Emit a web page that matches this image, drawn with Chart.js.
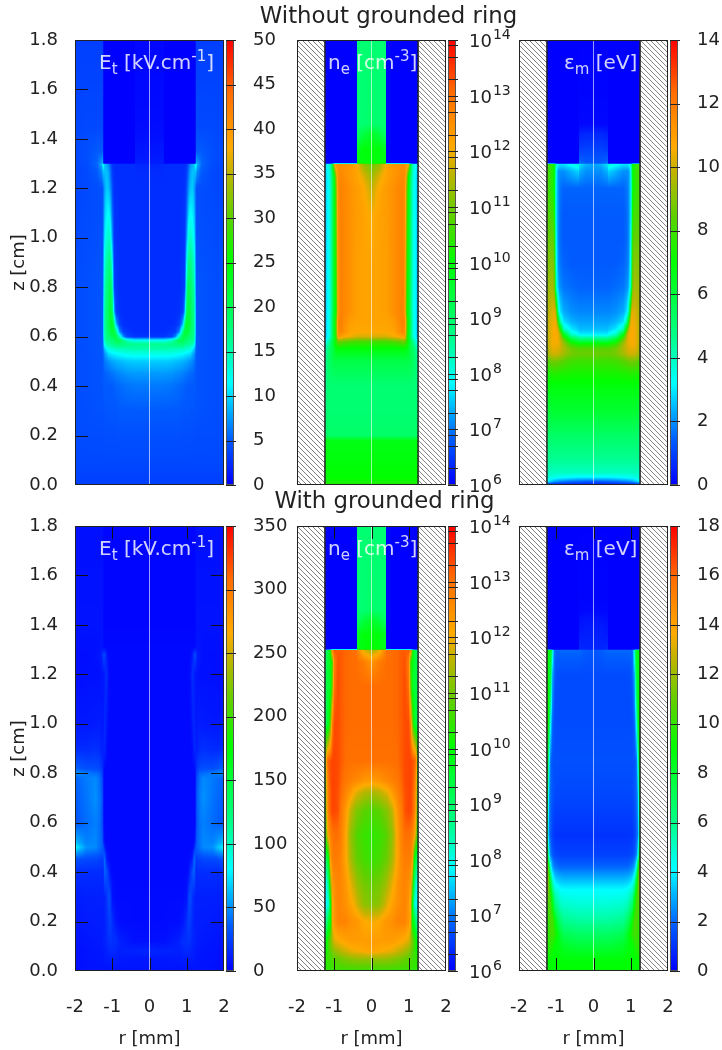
<!DOCTYPE html>
<html>
<head>
<meta charset="utf-8">
<title>Without / with grounded ring</title>
<script src="https://cdn.jsdelivr.net/npm/chart.js@4"></script>
<style>
html,body{margin:0;padding:0;background:#fff;}
#page{position:relative;width:722px;height:1050px;overflow:hidden;font-family:"DejaVu Sans",sans-serif;color:#222;}
#page canvas{position:absolute;left:0;top:0;}
.title{position:absolute;left:0;font-size:22.8px;text-align:center;white-space:nowrap;z-index:5;}
.tag{position:absolute;font-size:20px;color:rgba(255,255,255,.82);white-space:nowrap;line-height:20px;z-index:5;}
.tag sub,.tag sup{font-size:15px;line-height:0;}
</style>
</head>
<body>
<div id="page">
<div class="title" style="top:2px;width:777px;">Without grounded ring</div>
<div class="title" style="top:487px;width:769px;">With grounded ring</div>
<div class="tag" style="left:99px;top:52px;">E<sub>t</sub> [kV.cm<sup>-1</sup>]</div>
<div class="tag" style="left:328px;top:52px;">n<sub>e</sub> [cm<sup>-3</sup>]</div>
<div class="tag" style="left:564px;top:52px;">ε<sub>m</sub> [eV]</div>
<div class="tag" style="left:99px;top:538px;">E<sub>t</sub> [kV.cm<sup>-1</sup>]</div>
<div class="tag" style="left:328px;top:538px;">n<sub>e</sub> [cm<sup>-3</sup>]</div>
<div class="tag" style="left:564px;top:538px;">ε<sub>m</sub> [eV]</div>
</div>
<script>
// tick labels
const rTicks = [-2, -1, 0, 1, 2];
const zTicks = [0, 0.2, 0.4, 0.6, 0.8, 1.0, 1.2, 1.4, 1.6, 1.8];
const centerLine = [{x: 0, y: 0}, {x: 0, y: 1.8}];
const logMajor = [6, 7, 8, 9, 10, 11, 12, 13, 14];
const logMinor = [2, 5, 8];

// field of the top left panel, E_t in kV/cm (half profile, mirrored at r=0)
const etTopR = [0,.38,.40,.60,.70,.80,.90,.95,1.0,1.05,1.1,1.15,1.2,1.23,1.25,1.27,1.4,1.7,2];
const etTopZ = [0,.1,.2,.3,.4,.45,.5,.53,.55,.57,.585,.6,.62,.65,.7,.8,.9,1.0,1.1,1.2,1.27,1.299,1.301,1.35,1.45,1.8];
const etTopV = [
[3.5,3.5,3.5,3.5,3.5,3.5,3.5,3.5,3.5,3.5,3.5,3.5,3.5,3.5,3.5,3.5,3.5,3.5,3.5],
[4,4,4,4,4,4,4,4,4,4,4,4,4,4,4,4,4,4,4],
[4.4,4.4,4.4,4.4,4.4,4.4,4.3,4.3,4.3,4.3,4.3,4.3,4.3,4.3,4.2,4.2,4.2,4.2,4.1],
[5,5,5,5,5,5,4.8,4.8,4.8,4.8,4.7,4.7,4.6,4.6,4.5,4.5,4.5,4.3,4.2],
[6.2,6.2,6.2,6,5.8,5.6,5.4,5.2,5,5,5,5,5,5,4.8,4.6,4.5,4.4,4.2],
[7.5,7.5,7.5,7.3,7,6.8,6.5,6.2,6,5.8,5.6,5.4,5.2,5,4.8,4.6,4.5,4.4,4.2],
[9.5,9.5,9.5,9.3,9,8.8,8.5,8.2,8,7.6,7.2,6.8,6.2,5.5,5,4.7,4.5,4.4,4.2],
[12.5,12.5,12.5,12.3,12,11.7,11.3,11,10.7,10.3,10,8.5,7.5,6,5.2,4.8,4.6,4.4,4.2],
[15,15,15,14.8,14.6,14.4,14,13.8,13.5,13.2,13,11,9.5,7,5.5,4.8,4.6,4.4,4.2],
[16.5,16.5,16.5,17,17.5,18,18,17,16.5,16,15.5,15,13,9,5.5,4.8,4.6,4.4,4.2],
[12,12,12,14,17,20,20,19,18,17.5,17,16.5,15,10,5.5,4.8,4.6,4.4,4.2],
[3,3,3,4,7,14,21,21,20,19,18,17,15.5,10.5,5.5,4.8,4.6,4.4,4.2],
[2.5,2.5,2.5,3,3.5,7,17,22,22,21,19,17.5,16,11,5.5,4.8,4.6,4.4,4.2],
[2.5,2.5,2.5,2.5,2.7,3.5,9,18,23,22,20,18,16,11,5.5,4.8,4.6,4.4,4.2],
[2.5,2.5,2.5,2.5,2.5,2.7,3.5,9,20,22,20,18,16,11,5.5,4.8,4.6,4.4,4.2],
[2.5,2.5,2.5,2.5,2.5,2.5,3,4,16,20,19,17,15,10,5.2,4.7,4.6,4.4,4.2],
[2.5,2.5,2.5,2.5,2.5,2.5,2.8,3.5,12,17,17,15.5,13.5,9,5,4.6,4.5,4.3,4.1],
[2.5,2.5,2.5,2.5,2.5,2.5,2.7,3.2,8,13,14,13,11,8,4.8,4.5,4.4,4.2,4],
[2.5,2.5,2.5,2.5,2.5,2.5,2.7,3,6,10,11.5,11,9.5,7,4.6,4.4,4.3,4.1,3.9],
[2.5,2.5,2.5,2.5,2.5,2.5,2.6,2.8,4.5,7.5,9,9.5,8,6.5,4.5,4.5,4.3,4,3.8],
[2.4,2.4,2.5,2.5,2.5,2.5,2.5,2.6,3.5,6,8,9,9,9,10,7,5,4,3.8],
[2,2.2,2.5,2.5,2.5,2.5,2.5,2.6,3,5,7,8,9,12,14,9,5.5,4.2,3.9],
[1.5,1.6,0,0,0,0,0,0,0,0,0,0,0,0,9,8,5.5,4.2,3.9],
[1.2,1.2,0,0,0,0,0,0,0,0,0,0,0,0,5,5,5,4.3,4],
[.6,.6,0,0,0,0,0,0,0,0,0,0,0,0,4,4,4,4,3.8],
[.3,.3,0,0,0,0,0,0,0,0,0,0,0,0,3.5,3.5,3.5,3.5,3.5]
];

// top middle panel, log10 of n_e
const neTopR = [0,.2,.38,.40,.6,.8,.85,.9,.95,1.0,1.05,1.1,1.15,1.2,1.25];
const neTopZ = [0,.03,.1,.18,.2,.3,.4,.5,.55,.58,.6,.62,.66,.7,.9,1.1,1.2,1.25,1.299,1.301,1.36,1.42,1.46,1.8];
const neTopV = [
[10.3,10.3,10.3,10.3,10.3,10.3,10.3,10.3,10.3,10.3,10.3,10.3,10.3,10.3,10.3],
[10,10,10,10,10,10,10,10,10,10,10,10,10,10,10],
[9.9,9.9,9.9,9.9,9.9,9.9,9.9,9.9,9.9,9.9,9.9,9.9,9.9,9.9,9.9],
[9.8,9.8,9.8,9.8,9.8,9.8,9.8,9.8,9.8,9.8,9.8,9.8,9.8,9.8,9.8],
[9,9,9,9,9,9,9,9,9,9,9,9,9,9,9],
[8.9,8.9,8.9,8.9,8.9,8.9,8.9,8.9,8.9,8.9,8.9,8.9,8.9,8.9,8.8],
[8.9,8.9,8.9,8.9,8.9,8.9,8.9,8.9,8.9,8.9,8.9,8.9,8.9,8.8,8.6],
[9.3,9.3,9.3,9.3,9.3,9.3,9.3,9.3,9.3,9.3,9.2,9.1,9,8.8,8.4],
[9.9,9.9,9.9,9.9,9.9,9.9,9.9,9.9,9.8,9.6,9.3,9.1,8.9,8.6,8.2],
[10.6,10.6,10.6,10.6,10.7,10.9,11,10.9,10.4,9.8,9.3,8.8,8.4,8.1,7.8],
[11.8,11.8,11.8,11.8,12,12.2,12.4,12.2,10.6,9.6,9.1,8.3,7.9,7.7,7.4],
[12.1,12.1,12.1,12.1,12.2,12.6,12.7,12.5,10.7,9.7,9.1,8.3,7.9,7.7,7.3],
[12.2,12.2,12.2,12.2,12.3,12.7,12.8,12.6,10.8,9.7,9.1,8.3,7.9,7.7,7.3],
[12.2,12.2,12.25,12.25,12.5,12.7,12.7,12.3,10.2,9.6,9,8.2,7.9,7.7,7.3],
[12.2,12.2,12.25,12.25,12.5,12.7,12.7,12.4,10.5,9.7,9,8.2,7.9,7.7,7.3],
[12,12.2,12.3,12.3,12.5,12.7,12.7,12.5,10.8,9.7,9,8.2,7.9,7.7,7.3],
[11.6,12.1,12.3,12.3,12.5,12.7,12.7,12.5,11,9.8,9,8.2,7.9,7.7,7.4],
[11.3,11.8,12.2,12.2,12.4,12.6,12.6,12.5,11.5,9.9,9.1,8.3,7.9,7.7,7.4],
[10.9,11.2,12,12.2,12.4,12.5,12.5,12.5,12.4,12,9.5,8.5,8,7.8,7.5],
[9.9,9.9,9.9,6,6,6,6,6,6,6,6,6,6,6,6],
[9.9,9.9,9.7,6,6,6,6,6,6,6,6,6,6,6,6],
[9.6,9.4,9,6,6,6,6,6,6,6,6,6,6,6,6],
[9,8.9,8.9,6,6,6,6,6,6,6,6,6,6,6,6],
[8.9,8.9,8.9,6,6,6,6,6,6,6,6,6,6,6,6]
];

// top right panel, mean energy in eV
const emTopR = [0,.2,.38,.40,.6,.8,.9,.95,1.0,1.02,1.05,1.1,1.2,1.25];
const emTopZ = [0,.015,.03,.05,.1,.2,.3,.4,.45,.5,.53,.55,.57,.59,.61,.63,.66,.7,.8,.9,1.0,1.1,1.2,1.27,1.299,1.301,1.36,1.42,1.46,1.8];
const emTopV = [
[.3,.3,.3,.3,.3,.3,.3,.3,.3,.3,.3,.3,.4,.5],
[1.5,1.5,1.6,1.6,1.7,1.9,2,2.1,2.2,2.2,2.3,2.5,3,3.5],
[3,3,3,3,3.1,3.2,3.3,3.3,3.4,3.4,3.4,3.5,3.6,3.7],
[4,4,4,4,4,4,4,4,4,4,4,4,4,4],
[4.5,4.5,4.5,4.5,4.5,4.5,4.5,4.5,4.5,4.5,4.5,4.5,4.5,4.5],
[5.3,5.3,5.3,5.3,5.3,5.3,5.3,5.3,5.3,5.3,5.3,5.3,5.2,5.1],
[6.2,6.2,6.2,6.2,6.2,6.2,6.2,6.2,6.2,6.2,6.2,6.2,6.1,6],
[6.8,6.8,6.8,6.8,6.8,6.8,6.8,6.8,6.8,6.8,6.8,6.8,6.8,6.6],
[7.3,7.3,7.3,7.3,7.3,7.4,7.4,7.5,7.5,7.5,7.5,7.5,7.4,7.2],
[7.9,7.9,7.9,7.9,8,8.3,8.5,8.6,8.7,8.7,8.7,8.7,8.4,8],
[8.6,8.6,8.6,8.6,8.8,9.4,9.8,10,10,10,10,10,9.6,8.8],
[8.4,8.4,8.4,8.4,8.7,9.6,10,10.2,10.3,10.3,10.3,10.3,9.8,9],
[7.2,7.2,7.2,7.2,7.8,9.4,10.2,10.4,10.5,10.5,10.5,10.5,10,9.2],
[5,5,5,5.2,6,8.5,10,10.5,10.6,10.6,10.6,10.5,10,9.2],
[3,3,3,3.2,3.8,6.5,9.6,10.4,10.6,10.6,10.6,10.5,10,9.2],
[2.5,2.5,2.5,2.6,3,4,8,10,10.5,10.6,10.6,10.5,10,9.2],
[2.2,2.2,2.2,2.2,2.4,2.9,4.5,8,10.2,10.5,10.5,10.4,10,9.2],
[1.9,1.9,1.9,1.9,2,2.3,3,4.5,9,10,10.3,10.2,9.8,9],
[1.5,1.5,1.5,1.5,1.6,1.7,2,2.5,4,6,9,9.5,9.4,8.8],
[1.4,1.4,1.4,1.4,1.4,1.5,1.7,2.1,3.5,5,8.5,9,9,8.5],
[1.4,1.4,1.4,1.4,1.4,1.4,1.6,2,3.2,4.5,8,8.5,8.6,8.2],
[1.4,1.4,1.4,1.4,1.4,1.4,1.6,2,3,4.2,7.5,8,8.2,8],
[1.5,1.5,1.5,1.5,1.5,1.5,1.7,2.1,3,4,7,7.5,8,8],
[2,2,2.4,2.8,2.4,2,2,2.1,3.2,4.5,7,7.5,8,8],
[2.2,2.4,3,3.8,3.4,3,3,3.2,4,5,7,7.5,8,8],
[1.4,1.4,1.6,0,0,0,0,0,0,0,0,0,0,0],
[1,1,.9,0,0,0,0,0,0,0,0,0,0,0],
[.6,.6,.5,0,0,0,0,0,0,0,0,0,0,0],
[.1,.1,.1,0,0,0,0,0,0,0,0,0,0,0],
[0,0,0,0,0,0,0,0,0,0,0,0,0,0]
];

// bottom left panel, E_t in kV/cm
const etBotR = [0,.38,.40,.8,.9,1.0,1.05,1.1,1.15,1.2,1.23,1.25,1.27,1.35,1.45,1.7,1.95,2];
const etBotZ = [0,.05,.08,.12,.2,.3,.4,.45,.48,.5,.52,.6,.7,.78,.8,.82,.9,1.0,1.2,1.28,1.31,1.4,1.8];
const etBotV = [
[7,7,7,7,7,7,7,7,7,7,7,7,7,7,7,6,5,5],
[9,9,9,10,11,11,11,10,10,10,9,8,8,8,7,7,6,6],
[14,13,13,12,14,16,15,14,12,11,10,9,9,8,8,7,6,6],
[6,6,6,12,18,18,20,18,15,13,12,11,10,10,9,8,7,7],
[4,4,4,5,8,18,25,22,16,13,12,11,11,11,11,10,9,9],
[4,4,4,4,4,7,25,30,20,14,13,12,12,12,12,12,11,11],
[3,3,3,3,3,4,6,20,30,40,22,15,16,17,17,17,17,17],
[3,3,3,3,3,3,4,6,12,42,30,22,22,25,27,28,30,32],
[3,3,3,3,3,3,3,4,7,25,34,30,32,37,40,42,55,60],
[3,3,3,3,3,3,3,3,4,12,28,33,36,42,48,50,75,95],
[3,3,3,3,3,3,3,3,3,5,14,30,36,42,48,46,60,70],
[3,3,3,3,3,3,3,3,3,3,4,25,33,42,45,40,34,30],
[3,3,3,3,3,3,3,3,3,3,4,25,35,44,50,42,36,34],
[3,3,3,3,3,3,3,3,3,3,5,22,30,42,48,44,38,36],
[3,3,3,3,3,3,3,3,3,3,6,20,25,38,40,44,50,48],
[3,3,3,3,3,3,3,3,3,4,8,16,20,28,30,30,36,38],
[3,3,3,3,3,3,3,3,5,15,14,12,12,16,18,16,16,16],
[3,3,3,3,3,3,3,4,10,16,10,9,9,11,10,9,9,9],
[3,3,3,3,3,3,3,7,18,12,9,8,7,6,6,6,5,5],
[3,3,3,3,3,3,3,4,10,25,28,22,14,8,6,5,5,5],
[3,3,3,3,3,3,3,3,3,3,3,8,7,7,6,6,6,6],
[2,2,2,2,2,2,2,2,2,2,2,7,7,7,7,7,7,7],
[2,2,2,2,2,2,2,2,2,2,2,6,6,6,6,6,6,6]
];

// bottom middle panel, log10 of n_e
const neBotR = [0,.2,.38,.40,.55,.7,.8,.9,1.0,1.05,1.1,1.15,1.2,1.25];
const neBotZ = [0,.05,.08,.12,.2,.27,.35,.45,.55,.65,.72,.77,.85,1.0,1.15,1.25,1.299,1.301,1.36,1.42,1.46,1.8];
const neBotV = [
[10.5,10.5,10.5,10.5,10.5,10.5,10.5,10.5,10.5,10.5,10.4,10.4,10.3,10.3],
[11.3,11.3,11.3,11.3,11.2,11.1,11,10.9,10.8,10.7,10.6,10.5,10.4,10.2],
[12.2,12.1,12,12,11.9,11.7,11.6,11.4,11.2,11,10.8,10.5,10.2,9.8],
[12.3,12.3,12.3,12.3,12.3,12.2,12.1,12,11.8,11.4,11,10.6,10,9.5],
[12,12.1,12.4,12.4,12.5,12.7,12.7,12.7,12.4,12,10,9.6,8.8,8.4],
[11.1,11.2,11.7,11.8,12.2,12.5,12.6,12.7,12.4,12,10,8.2,7.9,7.7],
[10.9,11,11.3,11.4,11.9,12.4,12.6,12.7,12.5,12.3,11,9,8,7.8],
[10.5,10.6,10.9,10.9,11.4,12.2,12.6,12.8,12.8,12.7,12.3,10,9.2,8.6],
[10.4,10.5,10.7,10.8,11.2,12.2,12.7,13,13,12.9,12.7,12.3,11.5,9.5],
[10.7,10.8,11.1,11.1,11.6,12.4,12.8,13.3,13.4,13.4,13.2,12.9,12,9.8],
[11.4,11.5,11.8,11.8,12.3,12.7,13,13.3,13.4,13.4,13.2,12.9,12.2,9.8],
[12.3,12.4,12.6,12.6,12.75,12.9,13.1,13.35,13.4,13.4,13.3,13,12.3,9.8],
[13,13,13,13,13,13.05,13.2,13.35,13.4,13.4,13.3,13.2,12.8,10],
[13.05,13.05,13.05,13.05,13.05,13.1,13.2,13.35,13.35,12.8,11,9.8,9.4,9],
[13.05,13.05,13.05,13.05,13.05,13.1,13.2,13.35,13,11,9.8,9.5,9.4,9],
[12.4,12.8,13,13.05,13.05,13.1,13.2,13.3,12.8,10.6,9.9,9.6,9.4,9],
[11.4,11.8,12.7,13,13.05,13.1,13.2,13.2,13.2,12.8,10.5,9.5,9,8.8],
[10,9.9,9.7,6,6,6,6,6,6,6,6,6,6,6],
[9.9,9.9,9.7,6,6,6,6,6,6,6,6,6,6,6],
[9.6,9.4,9,6,6,6,6,6,6,6,6,6,6,6],
[9,8.9,8.9,6,6,6,6,6,6,6,6,6,6,6],
[8.9,8.9,8.9,6,6,6,6,6,6,6,6,6,6,6]
];

// bottom right panel, mean energy in eV
const emBotR = [0,.2,.38,.40,.8,.9,1.0,1.05,1.1,1.15,1.2,1.23,1.25];
const emBotZ = [0,.05,.1,.15,.2,.25,.3,.33,.38,.42,.47,.55,.7,.85,1.0,1.1,1.2,1.299,1.301,1.36,1.42,1.46,1.8];
const emBotV = [
[9,9,9,9,9,9,9,9,9,9,9,9,9],
[8.8,8.8,8.8,8.8,8.8,8.9,9,9,9,9.1,9.2,9.2,9.2],
[7.8,7.8,7.8,7.8,8.2,8.6,8.8,9,9.5,9.8,9.8,9.7,9.5],
[6.8,6.8,6.8,6.8,7.2,8,9.3,10,10.3,10.3,10,9.6,9],
[5.7,5.7,5.7,5.7,6,6.8,8.2,9.5,10.5,10.5,10.2,9.6,9],
[5,5,5,5,5.2,5.5,6.5,7.5,9.5,10.5,10.5,10,9.5],
[4.4,4.4,4.4,4.4,4.5,4.7,5.3,6,8,10,10.8,11,10],
[4.1,4.1,4.1,4.1,4.1,4.2,4.6,5,6.5,9,11,12,12],
[2.9,2.9,2.9,2.9,2.9,3,3.2,3.6,4.5,7,10.5,12.5,13.5],
[2,2,2,2,2,2,2.2,2.4,3,4.5,9,12,14],
[1.3,1.3,1.3,1.3,1.3,1.3,1.4,1.5,1.8,2.3,4.5,9,12],
[1,1,1,1,1,1,1,1.1,1.3,1.8,2.5,6,9],
[1.4,1.4,1.4,1.4,1.4,1.4,1.4,1.5,1.7,2,3,8,9.5],
[1.6,1.6,1.6,1.6,1.6,1.6,1.6,1.6,1.7,2,5,9,10],
[1.5,1.5,1.5,1.5,1.5,1.5,1.5,1.6,2,4,8.5,9.5,9.5],
[1.5,1.5,1.5,1.5,1.5,1.5,1.5,1.7,2.5,6,9,9,9],
[1.5,1.5,1.5,1.5,1.5,1.5,1.6,2,3,7.5,8.5,9,9],
[1.7,1.8,2,2,2,2,2,2.2,5,8.5,8.8,9,9],
[.7,.7,.8,0,0,0,0,0,0,0,0,0,0],
[.6,.6,.5,0,0,0,0,0,0,0,0,0,0],
[.4,.4,.3,0,0,0,0,0,0,0,0,0,0],
[.1,.1,.1,0,0,0,0,0,0,0,0,0,0],
[0,0,0,0,0,0,0,0,0,0,0,0,0]
];

// colour map of the bars, position along the bar -> rgb
const cmapPos = [0, .1, .23, .33, .5, .6, .7, .76, .88, 1];
const cmapRgb = [[0,0,255],[0,90,255],[0,255,255],[0,255,140],[0,255,0],[90,210,0],[190,180,0],[255,170,0],[255,110,0],[255,0,0]];

const WALL = 1.25;
const INK = '#222';
const FONT = {family: '"DejaVu Sans"', size: 18};

function colourAt(t) {
    t = Math.max(0, Math.min(1, t));
    let i = 0;
    while (i < cmapPos.length - 2 && t > cmapPos[i + 1]) i++;
    const f = (t - cmapPos[i]) / (cmapPos[i + 1] - cmapPos[i]);
    const a = cmapRgb[i], b = cmapRgb[i + 1];
    return [a[0] + (b[0] - a[0]) * f, a[1] + (b[1] - a[1]) * f, a[2] + (b[2] - a[2]) * f];
}

function locate(list, v) {
    let i = 0;
    while (i < list.length - 2 && v > list[i + 1]) i++;
    const f = (v - list[i]) / (list[i + 1] - list[i]);
    return [i, Math.max(0, Math.min(1, f))];
}

// paints the grid cells (shaded between corners) through the chart scales
const heatPlugin = {
    id: 'heat',
    beforeDatasetsDraw(chart, args, o) {
        const area = chart.chartArea, ctx = chart.ctx;
        const w = Math.round(area.right - area.left), h = Math.round(area.bottom - area.top);
        const img = ctx.createImageData(w, h);
        for (let j = 0; j < h; j++) {
            const z = chart.scales.y.getValueForPixel(area.top + j + .5);
            const [iz, fz] = locate(o.z, z);
            for (let k = 0; k < w; k++) {
                const r = Math.abs(chart.scales.x.getValueForPixel(area.left + k + .5));
                const [ir, fr] = locate(o.r, r);
                const lo = o.v[iz], hi = o.v[iz + 1];
                const v = (lo[ir] * (1 - fr) + lo[ir + 1] * fr) * (1 - fz) + (hi[ir] * (1 - fr) + hi[ir + 1] * fr) * fz;
                const c = colourAt((v - o.min) / (o.max - o.min));
                const p = (j * w + k) * 4;
                img.data[p] = c[0]; img.data[p + 1] = c[1]; img.data[p + 2] = c[2]; img.data[p + 3] = 255;
            }
        }
        ctx.putImageData(img, area.left, area.top);
        if (o.hatch) drawHatch(chart);
    },
    afterDatasetsDraw(chart, args, o) {
        const area = chart.chartArea, ctx = chart.ctx;
        const L = 13;
        ctx.save();
        ctx.strokeStyle = '#111';
        ctx.lineWidth = 1;
        ctx.beginPath();
        zTicks.slice(1, -1).forEach(v => {
            const y = Math.round(chart.scales.y.getPixelForValue(v)) + .5;
            if (o.sides.includes('l')) { ctx.moveTo(area.left, y); ctx.lineTo(area.left + L, y); }
            if (o.sides.includes('r')) { ctx.moveTo(area.right, y); ctx.lineTo(area.right - L, y); }
        });
        rTicks.slice(1, -1).forEach(v => {
            const x = Math.round(chart.scales.x.getPixelForValue(v)) + .5;
            if (o.sides.includes('t')) { ctx.moveTo(x, area.top); ctx.lineTo(x, area.top + L); }
            if (o.sides.includes('b')) { ctx.moveTo(x, area.bottom); ctx.lineTo(x, area.bottom - L); }
        });
        ctx.stroke();
        ctx.strokeStyle = '#222';
        ctx.strokeRect(area.left + .5, area.top + .5, area.right - area.left - 1, area.bottom - area.top - 1);
        ctx.restore();
    }
};

function drawHatch(chart) {
    const area = chart.chartArea, ctx = chart.ctx;
    const xl = chart.scales.x.getPixelForValue(-WALL), xr = chart.scales.x.getPixelForValue(WALL);
    ctx.save();
    ctx.fillStyle = '#fff';
    [[area.left, xl], [xr, area.right]].forEach(([a, b]) => {
        ctx.save();
        ctx.beginPath();
        ctx.rect(a, area.top, b - a, area.bottom - area.top);
        ctx.clip();
        ctx.fillRect(a, area.top, b - a, area.bottom - area.top);
        ctx.strokeStyle = '#808080';
        ctx.lineWidth = 1;
        ctx.beginPath();
        const H = area.bottom - area.top;
        for (let x = a - H - 5; x < b; x += 5) {
            ctx.moveTo(x, area.top);
            ctx.lineTo(x + H, area.bottom);
        }
        ctx.stroke();
        ctx.restore();
    });
    ctx.strokeStyle = '#222';
    ctx.lineWidth = 1.5;
    ctx.beginPath();
    ctx.moveTo(xl, area.top); ctx.lineTo(xl, area.bottom);
    ctx.moveTo(xr, area.top); ctx.lineTo(xr, area.bottom);
    ctx.stroke();
    ctx.restore();
}

// the colour bar next to a panel, with its tick marks and, on log bars, 10^n labels
const barPlugin = {
    id: 'bar',
    beforeDatasetsDraw(chart, args, o) {
        const area = chart.chartArea, ctx = chart.ctx, y = chart.scales.y;
        for (let j = Math.round(area.top); j < area.bottom; j++) {
            const v = y.getValueForPixel(j + .5);
            const t = o.log ? (Math.log10(v) - o.min) / (o.max - o.min) : (v - o.min) / (o.max - o.min);
            const c = colourAt(t);
            ctx.fillStyle = 'rgb(' + c.map(Math.round).join(',') + ')';
            ctx.fillRect(area.left, j, area.right - area.left, 1);
        }
        ctx.save();
        ctx.strokeStyle = '#555';
        ctx.strokeRect(area.left + .5, area.top + .5, area.right - area.left - 1, area.bottom - area.top - 1);
        ctx.strokeStyle = '#222';
        ctx.beginPath();
        y.ticks.forEach(t => {
            const p = Math.round(y.getPixelForValue(t.value)) + .5;
            ctx.moveTo(area.left, p);
            ctx.lineTo(area.right + 2, p);
        });
        ctx.stroke();
        if (o.log) {
            ctx.fillStyle = INK;
            ctx.textAlign = 'left';
            ctx.textBaseline = 'alphabetic';
            logMajor.forEach(n => {
                const p = y.getPixelForValue(Math.pow(10, n));
                const x = o.labelX;
                ctx.font = '18px "DejaVu Sans"';
                ctx.fillText('10', x, p + 7);
                const w = ctx.measureText('10').width;
                ctx.font = '14px "DejaVu Sans"';
                ctx.fillText(String(n), x + w + 1, p - 1);
            });
        }
        ctx.restore();
    }
};

function heatChart(p) {
    const canvas = document.createElement('canvas');
    canvas.width = 722; canvas.height = 1050;
    document.getElementById('page').appendChild(canvas);
    new Chart(canvas, {
        type: 'scatter',
        data: {datasets: [{data: centerLine, showLine: true, borderColor: 'rgba(255,255,255,.6)', borderWidth: 1, pointRadius: 0}]},
        options: {
            responsive: false, animation: false, devicePixelRatio: 1,
            layout: {padding: {
                left: p.showZ ? 0 : p.left,
                right: 722 - p.right,
                top: p.top,
                bottom: p.showR ? 0 : 1050 - p.bottom
            }},
            plugins: {
                legend: {display: false}, tooltip: {enabled: false},
                heat: {r: p.r, z: p.z, v: p.v, min: p.min, max: p.max, hatch: p.hatch, sides: p.sides}
            },
            scales: {
                x: {
                    type: 'linear', min: -2, max: 2, display: p.showR,
                    afterBuildTicks: s => { s.ticks = rTicks.map(v => ({value: v})); },
                    afterFit: s => { s.height = p.showR ? 1050 - p.bottom : 0; },
                    grid: {display: false}, border: {display: false},
                    ticks: {font: FONT, color: INK, padding: 18, maxRotation: 0, autoSkip: false, callback: v => String(v)},
                    title: {display: true, text: 'r [mm]', font: FONT, color: INK, padding: {top: 0, bottom: 0}}
                },
                y: {
                    type: 'linear', min: 0, max: 1.8, display: p.showZ,
                    afterBuildTicks: s => { s.ticks = zTicks.map(v => ({value: v})); },
                    afterFit: s => { s.width = p.showZ ? p.left : 0; },
                    grid: {display: false}, border: {display: false},
                    ticks: {font: FONT, color: INK, padding: 9, autoSkip: false, callback: v => v.toFixed(1)},
                    title: {display: true, text: 'z [cm]', font: FONT, color: INK, padding: {top: 9, bottom: 0}}
                }
            }
        },
        plugins: [heatPlugin]
    });
}

function barChart(b) {
    const canvas = document.createElement('canvas');
    canvas.width = 722; canvas.height = 1050;
    document.getElementById('page').appendChild(canvas);
    const yScale = b.log ? {
        type: 'logarithmic', min: Math.pow(10, b.min), max: Math.pow(10, b.max),
        afterBuildTicks: s => {
            const t = [];
            logMajor.forEach(n => {
                t.push({value: Math.pow(10, n)});
                if (n < b.max) logMinor.forEach(m => t.push({value: m * Math.pow(10, n)}));
            });
            s.ticks = t;
        },
        ticks: {display: false}
    } : {
        type: 'linear', min: b.min, max: b.max,
        afterBuildTicks: s => { s.ticks = b.ticks.map(v => ({value: v})); },
        ticks: {font: FONT, color: INK, padding: b.pad, autoSkip: false, callback: v => String(v)}
    };
    new Chart(canvas, {
        type: 'scatter',
        data: {datasets: []},
        options: {
            responsive: false, animation: false, devicePixelRatio: 1,
            layout: {padding: {left: b.left, right: 722 - b.right - 60, top: b.top, bottom: 1050 - b.bottom}},
            plugins: {
                legend: {display: false}, tooltip: {enabled: false},
                bar: {log: b.log, min: b.min, max: b.max, labelX: b.right + b.pad}
            },
            scales: {
                x: {display: false},
                y: Object.assign(yScale, {
                    position: 'right',
                    afterFit: s => { s.width = 60; },
                    grid: {display: false}, border: {display: false}
                })
            }
        },
        plugins: [barPlugin]
    });
}

const rowTop = {top: 40, bottom: 485};
const rowBot = {top: 526, bottom: 971};

heatChart({left: 75, right: 224, ...rowTop, r: etTopR, z: etTopZ, v: etTopV, min: 0, max: 50, sides: 'l', showZ: true, showR: false, hatch: false});
heatChart({left: 297, right: 446, ...rowTop, r: neTopR, z: neTopZ, v: neTopV, min: 6, max: 14, sides: '', showZ: false, showR: false, hatch: true});
heatChart({left: 519, right: 668, ...rowTop, r: emTopR, z: emTopZ, v: emTopV, min: 0, max: 14, sides: '', showZ: false, showR: false, hatch: true});
heatChart({left: 75, right: 224, ...rowBot, r: etBotR, z: etBotZ, v: etBotV, min: 0, max: 350, sides: 'lrtb', showZ: true, showR: true, hatch: false});
heatChart({left: 297, right: 446, ...rowBot, r: neBotR, z: neBotZ, v: neBotV, min: 6, max: 14, sides: 'tb', showZ: false, showR: true, hatch: true});
heatChart({left: 519, right: 668, ...rowBot, r: emBotR, z: emBotZ, v: emBotV, min: 0, max: 18, sides: 'tb', showZ: false, showR: true, hatch: true});

barChart({left: 226, right: 234, ...rowTop, min: 0, max: 50, ticks: [0, 5, 10, 15, 20, 25, 30, 35, 40, 45, 50], pad: 11, log: false});
barChart({left: 448, right: 456, ...rowTop, min: 6, max: 14, pad: 13, log: true});
barChart({left: 670, right: 678, ...rowTop, min: 0, max: 14, ticks: [0, 2, 4, 6, 8, 10, 12, 14], pad: 11, log: false});
barChart({left: 226, right: 234, ...rowBot, min: 0, max: 350, ticks: [0, 50, 100, 150, 200, 250, 300, 350], pad: 11, log: false});
barChart({left: 448, right: 456, ...rowBot, min: 6, max: 14, pad: 13, log: true});
barChart({left: 670, right: 678, ...rowBot, min: 0, max: 18, ticks: [0, 2, 4, 6, 8, 10, 12, 14, 16, 18], pad: 11, log: false});
</script>
</body>
</html>
